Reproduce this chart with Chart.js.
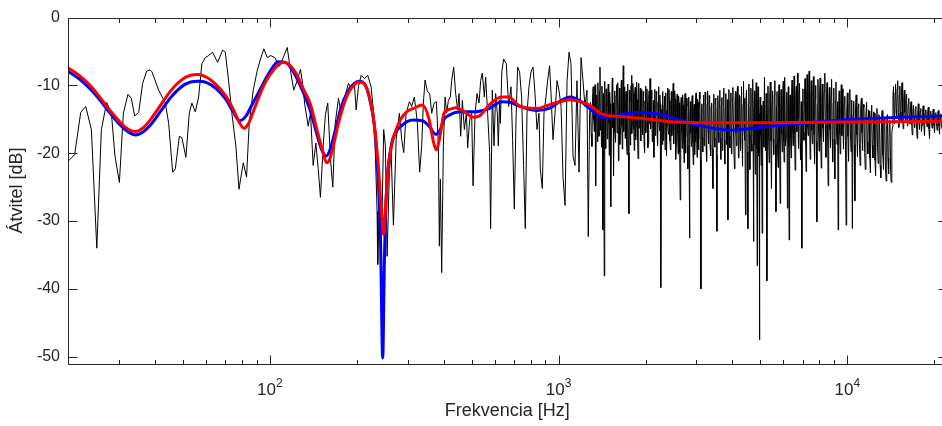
<!DOCTYPE html>
<html>
<head>
<meta charset="utf-8">
<script src="https://cdn.jsdelivr.net/npm/chart.js@4.4.1/dist/chart.umd.min.js"></script>
<style>
  html, body { margin: 0; padding: 0; overflow: hidden; background: #fff; }
</style>
</head>
<body>
<canvas id="chart" width="950" height="426"></canvas>
<script>
// measured response, [Hz, dB]
const measured = [
  [20.0,-21.2],[21.09,-20.2],[22.13,-14.0],[23.03,-13.1],[24.1,-16.5],[25.16,-34.0],[26.1,-16.5],[27.23,-12.5],[28.27,-14.1],[29.09,-20.4],
  [30.13,-24.3],[31.1,-14.1],[32.26,-11.3],[33.14,-11.9],[34.03,-14.5],[35.13,-14.0],[36.27,-9.7],[37.45,-7.9],[38.45,-7.7],[39.07,-8.0],
  [41.21,-10.7],[43.47,-12.6],[44.63,-15.6],[46.07,-22.8],[47.07,-22.3],[48.6,-17.5],[49.6,-17.7],[51.21,-20.6],[52.61,-14.1],[53.72,-12.6],
  [55.2,-13.9],[56.67,-11.7],[58.17,-6.8],[59.77,-5.9],[61.36,-5.6],[63.35,-5.1],[65.93,-6.6],[68.61,-4.8],[70.1,-5.1],[71.97,-9.3],
  [73.87,-14.1],[76.27,-18.9],[78.2,-25.3],[80.9,-21.4],[83.05,-23.5],[84.85,-15.6],[87.61,-10.7],[90.45,-7.8],[92.86,-6.1],[95.34,-4.6],
  [97.96,-5.9],[100.6,-5.6],[104.1,-5.9],[107.8,-7.2],[111.3,-5.9],[114.9,-4.4],[117.9,-7.8],[121.0,-10.7],[124.4,-9.3],[127.7,-7.6],
  [129.8,-9.7],[132.2,-12.9],[135.8,-16.0],[138.3,-14.1],[141.3,-21.8],[144.3,-18.5],[147.1,-22.3],[149.7,-26.5],[153.0,-18.9],[155.8,-14.3],
  [158.7,-12.6],[162.2,-20.9],[165.2,-25.0],[168.4,-15.6],[172.9,-11.9],[176.6,-14.1],[181.3,-11.9],[187.2,-9.7],[192.2,-10.5],[196.4,-10.0],
  [199.0,-13.6],[202.7,-10.2],[207.2,-8.5],[212.7,-9.0],[218.3,-8.5],[224.2,-10.2],[230.2,-15.1],[235.2,-28.6],[236.4,-36.4],[239.6,-26.2],
  [244.0,-32.0],[247.9,-16.5],[251.3,-18.9],[254.8,-35.2],[259.4,-22.8],[263.1,-19.9],[267.9,-30.6],[273.8,-18.0],[281.0,-14.1],[286.3,-18.0],
  [290.9,-19.9],[296.5,-14.1],[304.4,-12.4],[309.9,-13.1],[316.6,-11.7],[320.5,-13.6],[324.3,-15.6],[330.3,-22.8],[335.7,-18.9],[340.2,-12.6],
  [344.9,-9.2],[351.3,-10.9],[357.8,-11.2],[363.6,-14.1],[370.6,-12.6],[377.4,-12.4],[383.5,-18.9],[386.5,-33.7],[389.6,-23.8],[393.7,-37.6],
  [399.0,-18.9],[404.5,-11.7],[409.7,-14.1],[415.3,-12.2],[421.9,-11.7],[426.3,-9.3],[433.2,-7.3],[440.1,-11.2],[447.2,-13.6],[452.2,-11.2],
  [458.0,-17.5],[464.3,-12.2],[471.7,-16.5],[479.3,-14.1],[484.3,-19.2],[492.1,-15.1],[500.0,-14.1],[505.6,-24.8],[513.7,-14.1],[522.0,-11.2],
  [530.3,-12.6],[537.1,-9.3],[544.4,-8.2],[553.2,-11.7],[559.0,-8.8],[567.9,-14.1],[577.1,-19.9],[581.6,-31.1],[589.5,-10.7],[597.6,-18.9],
  [605.3,-11.2],[613.5,-14.1],[618.4,-18.9],[624.9,-12.2],[628.4,-15.6],[636.0,-8.0],[645.2,-6.1],[659.2,-6.8],[671.4,-13.1],[684.3,-10.2],
  [693.1,-18.0],[702.5,-28.2],[712.1,-15.1],[721.3,-7.3],[732.9,-8.0],[744.6,-11.7],[756.6,-21.8],[766.8,-31.1],[777.4,-14.1],[789.8,-10.2],
  [802.6,-8.0],[815.5,-7.3],[828.6,-11.2],[841.9,-16.5],[855.4,-14.1],[864.3,-22.3],[878.2,-25.2],[890.1,-14.1],[904.5,-11.7],[916.1,-9.3],
  [930.8,-7.1],[941.3,-11.2],[956.5,-18.0],[971.9,-14.1],[987.5,-9.3],[1003,-10.7],[1020,-13.1],[1036,-23.5],[1053,-27.7],[1070,-9.3],
  [1087,-5.1],[1104,-6.8],[1122,-20.4],[1140,-21.8],[1158,-9.3],[1177,-22.8],[1196,-5.9],[1215,-9.3],[1234,-13.1],[1254,-10.7],
  [1267,-32.3],[1281,-14.1],
  // 1.3k - 2.3k
  [1290,-12.5],[1297,-17.2],[1305,-19.0],[1311,-11.8],[1318,-10.2],[1324,-15.1],[1330,-16.8],[1337,-9.9],[1344,-24.8],[1350,-13.9],
  [1356,-11.4],[1362,-18.3],[1368,-9.6],[1374,-14.4],[1380,-17.5],[1386,-10.8],[1391,-7.3],[1397,-16.6],[1402,-13.8],[1408,-19.1],
  [1413,-10.1],[1418,-15.2],[1424,-31.3],[1428,-11.2],[1432,-12.0],[1436,-20.5],[1439,-38.1],[1445,-9.4],[1450,-14.6],[1456,-19.3],
  [1462,-10.5],[1468,-13.1],[1474,-17.9],[1480,-12.2],[1486,-9.8],[1492,-15.5],[1498,-20.3],[1503,-11.0],[1508,-12.7],[1513,-18.0],
  [1518,-27.9],[1524,-14.8],[1530,-11.3],[1535,-8.9],[1540,-16.2],[1545,-12.6],[1550,-23.3],[1556,-13.0],[1562,-10.8],[1568,-16.9],
  [1575,-18.4],[1581,-11.5],[1588,-9.9],[1594,-17.0],[1600,-14.7],[1606,-9.6],[1612,-21.1],[1618,-13.3],[1624,-10.4],[1630,-18.7],
  [1637,-16.3],[1643,-11.0],[1650,-9.2],[1656,-15.9],[1662,-19.4],[1668,-12.1],[1675,-7.1],[1681,-16.8],[1688,-13.6],[1694,-10.2],
  [1700,-17.8],[1706,-12.9],[1713,-10.9],[1719,-18.5],[1726,-20.2],[1732,-9.8],[1739,-11.8],[1745,-19.9],[1752,-28.9],[1758,-10.7],
  [1765,-12.4],[1771,-18.8],[1777,-16.9],[1783,-10.0],[1789,-8.5],[1795,-17.1],[1802,-15.3],[1808,-9.7],[1815,-11.2],[1821,-16.4],
  [1828,-19.6],[1835,-11.1],[1842,-10.3],[1849,-18.0],[1856,-16.0],[1863,-9.5],[1870,-12.1],[1877,-17.6],[1884,-20.8],[1891,-12.0],
  [1898,-9.7],[1905,-16.3],[1912,-14.5],[1919,-10.4],[1926,-18.2],[1933,-13.0],[1940,-10.6],[1947,-15.0],[1955,-17.3],[1962,-10.9],
  [1970,-11.5],[1977,-18.4],[1985,-19.9],[1992,-12.3],[2000,-10.1],[2007,-17.0],[2015,-15.8],[2022,-10.5],[2030,-12.4],[2037,-19.2],
  [2045,-18.6],[2052,-11.7],[2059,-10.8],[2066,-15.6],[2073,-9.0],[2080,-13.8],[2088,-16.4],[2095,-10.7],[2103,-11.9],[2110,-18.3],
  [2118,-17.7],[2128,-12.2],[2139,-20.6],[2146,-13.4],[2154,-10.6],[2162,-17.4],[2170,-15.1],[2178,-10.9],[2186,-11.3],[2194,-16.8],
  [2202,-18.9],[2210,-12.5],[2218,-10.2],[2226,-15.3],[2234,-16.7],[2242,-11.4],[2250,-12.8],[2256,-19.0],[2262,-39.8],[2270,-15.2],
  [2278,-13.5],
  // 2.3k - 3.1k
  [2286,-18.7],[2294,-10.9],[2302,-15.4],[2310,-18.1],[2319,-12.9],[2328,-11.6],[2337,-19.5],[2346,-16.4],[2355,-11.1],[2365,-20.4],
  [2374,-13.7],[2383,-10.4],[2392,-16.0],[2402,-17.2],[2411,-10.6],[2420,-12.3],[2430,-18.2],[2440,-19.5],[2449,-12.8],[2458,-10.9],
  [2467,-17.4],[2477,-16.1],[2486,-11.3],[2495,-9.7],[2504,-18.6],[2514,-15.7],[2524,-10.8],[2534,-12.0],[2544,-20.9],[2554,-18.8],
  [2564,-12.7],[2574,-11.3],[2584,-17.0],[2594,-20.1],[2604,-11.6],[2615,-12.6],[2626,-19.8],[2638,-26.9],[2648,-13.5],[2658,-11.8],
  [2668,-16.8],[2679,-19.3],[2689,-11.4],[2700,-12.9],[2710,-18.0],[2720,-21.4],[2730,-13.6],[2741,-11.2],[2751,-20.0],[2762,-17.6],
  [2772,-11.9],[2783,-13.1],[2793,-18.9],[2804,-22.3],[2814,-12.6],[2824,-11.7],[2832,-20.8],[2841,-32.5],[2850,-14.7],[2860,-12.4],
  [2871,-17.1],[2882,-19.0],[2893,-12.2],[2904,-11.5],[2915,-18.4],[2926,-21.7],[2937,-13.9],[2948,-12.8],[2959,-20.2],[2970,-18.3],
  [2981,-11.8],[2993,-11.1],[3004,-16.9],[3016,-20.6],[3028,-12.0],[3040,-12.5],[3051,-19.5],[3063,-17.9],[3075,-11.0],[3087,-11.9],
  [3099,-21.0],[3111,-40.0],[3122,-14.2],[3133,-12.7],
  // 3.1k - 4.2k
  [3145,-17.6],[3157,-19.8],[3169,-12.9],[3181,-11.4],[3193,-18.9],[3206,-17.5],[3218,-11.0],[3231,-12.2],[3243,-19.0],[3256,-21.2],
  [3269,-12.7],[3282,-10.8],[3295,-16.4],[3308,-18.6],[3321,-11.5],[3335,-11.9],[3348,-18.8],[3362,-20.4],[3375,-13.1],[3389,-12.6],
  [3406,-19.4],[3423,-25.2],[3435,-12.8],[3448,-11.3],[3462,-17.7],[3476,-19.1],[3490,-11.9],[3504,-12.1],[3519,-20.3],[3534,-31.5],
  [3547,-13.4],[3560,-11.5],[3574,-16.9],[3588,-18.4],[3602,-12.4],[3617,-10.7],[3631,-17.8],[3646,-20.9],[3660,-12.9],[3675,-11.8],
  [3689,-19.6],[3704,-17.3],[3719,-11.7],[3734,-10.4],[3749,-18.0],[3764,-21.6],[3779,-13.5],[3794,-11.2],[3809,-16.3],[3825,-18.7],
  [3841,-12.1],[3858,-29.8],[3873,-13.2],[3888,-10.6],[3904,-17.4],[3920,-19.2],[3935,-12.3],[3951,-11.1],[3967,-20.1],[3983,-17.6],
  [3999,-11.9],[4015,-10.3],[4040,-18.3],[4066,-22.3],[4082,-12.4],[4098,-10.9],[4114,-17.0],[4131,-18.9],[4147,-11.5],[4164,-10.1],
  [4181,-16.2],[4198,-20.7],[4215,-12.6],[4232,-11.4],
  // 4.2k - 5.9k
  [4249,-18.1],[4266,-19.6],[4283,-11.6],[4300,-10.2],[4318,-17.9],[4335,-21.9],[4352,-12.8],[4370,-9.4],[4387,-16.5],[4404,-18.1],
  [4421,-11.9],[4439,-29.1],[4457,-12.1],[4475,-10.7],[4500,-19.8],[4524,-31.1],[4542,-12.7],[4560,-9.8],[4578,-17.2],[4597,-22.4],
  [4615,-13.1],[4634,-10.4],[4652,-18.6],[4671,-19.7],[4686,-11.3],[4702,-9.1],[4717,-17.5],[4732,-33.0],[4748,-14.0],[4765,-10.8],
  [4782,-18.8],[4800,-23.1],[4818,-12.0],[4836,-9.6],[4855,-19.4],[4873,-36.6],[4889,-13.3],[4905,-10.2],[4920,-17.8],[4935,-20.4],
  [4949,-14.2],[4963,-47.5],[4976,-15.0],[4990,-11.7],[5010,-17.3],[5030,-21.8],[5050,-12.9],[5070,-31.8],[5092,-13.8],[5115,-12.3],
  [5140,-19.1],[5164,-8.8],[5187,-15.7],[5210,-19.6],[5237,-11.2],[5264,-38.8],[5287,-14.4],[5310,-10.1],[5335,-17.6],[5360,-21.4],
  [5385,-11.8],[5410,-9.5],[5436,-18.2],[5461,-25.2],[5485,-12.6],[5510,-10.8],[5535,-17.9],[5560,-20.2],[5585,-11.4],[5610,-9.3],
  [5635,-18.7],[5660,-28.6],[5683,-13.0],[5705,-10.9],[5730,-19.5],[5755,-22.1],[5778,-11.7],[5800,-9.9],[5826,-18.4],[5852,-27.4],
  // 5.9k - 9.5k
  [5876,-13.1],[5900,-10.6],[5925,-17.1],[5950,-19.8],[5975,-11.5],[6000,-9.4],[6020,-18.2],[6040,-21.3],[6058,-12.0],[6076,-8.8],
  [6108,-18.9],[6140,-17.6],[6171,-11.0],[6202,-28.1],[6224,-13.6],[6245,-10.2],[6266,-19.0],[6287,-32.8],[6311,-13.9],[6335,-11.4],
  [6360,-17.8],[6385,-20.7],[6410,-11.9],[6435,-9.2],[6460,-16.4],[6485,-18.9],[6512,-12.3],[6540,-8.6],[6567,-17.0],[6595,-22.5],
  [6625,-11.8],[6655,-10.1],[6686,-16.8],[6717,-8.2],[6746,-14.9],[6775,-19.3],[6802,-11.2],[6830,-9.7],[6860,-18.6],[6890,-21.0],
  [6923,-12.4],[6957,-34.0],[6986,-13.0],[7015,-10.5],[7045,-16.9],[7075,-18.1],[7105,-11.3],[7135,-9.0],[7165,-17.5],[7195,-22.7],
  [7225,-12.2],[7255,-8.4],[7285,-16.1],[7315,-17.4],[7344,-10.6],[7373,-7.9],[7404,-15.8],[7435,-20.9],[7467,-11.7],[7500,-9.3],
  [7532,-16.6],[7565,-18.6],[7597,-10.9],[7630,-8.7],[7665,-17.3],[7700,-21.6],[7735,-12.0],[7770,-10.0],[7805,-18.2],[7841,-30.1],
  [7875,-12.8],[7910,-9.1],[7945,-16.0],[7980,-19.7],[8015,-11.4],[8050,-8.9],[8085,-17.7],[8120,-22.2],[8155,-12.5],[8190,-9.8],
  [8230,-16.3],[8270,-18.3],[8312,-11.0],[8355,-8.2],[8392,-15.9],[8430,-20.6],[8467,-11.8],[8505,-9.6],[8542,-17.4],[8580,-24.8],
  [8620,-12.9],[8660,-10.3],[8700,-16.5],[8740,-19.2],[8780,-11.6],[8820,-9.1],[8860,-17.9],[8900,-21.3],[8937,-12.6],[8975,-10.4],
  [9012,-18.0],[9050,-23.8],[9090,-12.2],[9130,-9.5],[9170,-16.7],[9210,-18.7],[9250,-12.4],[9291,-31.3],[9330,-13.3],[9370,-10.8],
  [9410,-17.1],[9450,-20.1],[9490,-12.1],[9530,-9.9],
  // 9.5k - 14.4k
  [9573,-17.4],[9616,-10.5],[9658,-16.2],[9700,-19.4],[9750,-12.6],[9800,-11.6],[9850,-18.1],[9902,-30.6],[9950,-13.7],[10000,-11.1],
  [10050,-17.5],[10100,-21.2],[10150,-12.8],[10200,-10.6],[10250,-16.9],[10300,-19.8],[10355,-12.2],[10409,-31.1],[10465,-14.4],[10520,-12.3],
  [10570,-18.7],[10620,-27.0],[10675,-13.2],[10730,-11.4],[10785,-17.3],[10840,-20.5],[10895,-13.1],[10950,-12.7],[11010,-18.6],[11070,-21.8],
  [11125,-13.5],[11180,-11.9],[11240,-17.0],[11300,-19.6],[11360,-12.8],[11420,-13.2],[11480,-19.9],[11540,-22.4],[11600,-14.1],[11660,-12.5],
  [11720,-18.3],[11780,-20.1],[11840,-13.6],[11900,-13.8],[11960,-20.6],[12020,-22.9],[12080,-14.5],[12140,-12.9],[12205,-18.8],[12270,-20.7],
  [12335,-13.9],[12400,-14.1],[12465,-21.0],[12530,-23.3],[12595,-15.0],[12660,-13.4],[12725,-19.2],[12790,-21.5],[12855,-14.3],[12920,-14.6],
  [12990,-21.8],[13060,-23.6],[13130,-15.4],[13200,-13.7],[13270,-20.3],[13340,-22.4],[13410,-14.8],[13480,-15.0],[13550,-21.9],[13620,-24.1],
  [13690,-16.0],[13760,-14.3],[13830,-20.7],[13900,-23.0],[13975,-15.6],[14050,-15.2],[14120,-22.5],[14190,-24.3],[14260,-17.1],[14330,-16.1],
  // 14.4k - 16.5k
  [14390,-11.5],[14450,-10.2],[14510,-14.3],[14570,-15.6],[14630,-11.1],[14690,-9.8],[14750,-13.7],[14810,-14.9],[14875,-10.6],[14940,-9.3],
  [15005,-14.1],[15070,-16.2],[15135,-11.4],[15200,-10.1],[15265,-13.9],[15330,-15.3],[15400,-11.0],[15470,-9.6],[15540,-14.6],[15610,-16.4],
  [15680,-12.0],[15750,-10.7],[15820,-14.0],[15890,-15.1],[15960,-12.3],[16030,-11.3],[16100,-14.8],[16170,-16.0],[16245,-12.7],[16320,-11.9],
  [16395,-14.6],[16470,-15.7],
  // 16.5k - 21.5k
  [16545,-13.2],[16620,-12.4],[16700,-15.6],[16780,-17.3],[16860,-13.8],[16940,-12.9],[17020,-15.0],[17100,-16.2],[17185,-13.5],[17270,-13.1],
  [17355,-16.0],[17440,-17.8],[17525,-14.1],[17610,-12.7],[17695,-15.3],[17780,-16.5],[17870,-13.9],[17960,-13.4],[18050,-16.8],[18140,-15.9],
  [18230,-13.6],[18320,-13.0],[18410,-15.7],[18500,-17.4],[18595,-14.2],[18690,-13.6],[18785,-15.1],[18880,-16.1],[18975,-13.9],[19070,-13.2],
  [19165,-16.4],[19260,-17.9],[19355,-14.5],[19450,-13.8],[19550,-15.2],[19650,-16.3],[19750,-14.0],[19850,-13.5],[19950,-15.9],[20050,-17.0],
  [20150,-14.4],[20250,-14.0],[20350,-15.5],[20450,-16.6],[20550,-14.3],[20650,-13.7],[20755,-16.0],[20860,-17.2],[20965,-14.6],[21070,-14.2],
  [21175,-15.8],[21280,-16.4],[21390,-14.8],[21500,-14.5]
];

// smoothed fits, [Hz, dB]
const blueFit = [
  [20,-7.9],[22.13,-9.2],[23.97,-10.6],[25.96,-12.3],[28.11,-14.2],[30.44,-15.9],[32.45,-16.9],[34.3,-17.3],[36.27,-16.9],[38.66,-15.8],
  [41.87,-13.8],[45.34,-11.8],[49.09,-10.3],[53.17,-9.5],[56.67,-9.4],[60.39,-9.6],[64.88,-10.4],[70.26,-12.0],[74.87,-14.0],[78.54,-15.2],
  [82.38,-14.6],[87.12,-12.7],[92.86,-10.5],[98.98,-8.3],[107.0,-6.5],[113.3,-6.6],[120.8,-8.0],[130.5,-11.0],[138.3,-13.8],[145.1,-17.0],
  [150.9,-19.4],[156.7,-20.4],[162.2,-19.3],[168.8,-16.5],[176.6,-13.2],[185.7,-11.0],[194.8,-9.8],[204.3,-9.4],[214.4,-10.0],[223.0,-12.5],
  [230.2,-16.0],[235.8,-22.0],[241.5,-32.0],[246.0,-50.2],[249.3,-36.0],[253.3,-26.0],[263.1,-19.0],[272.2,-17.0],[284.9,-16.0],[299.6,-15.3],
  [314.1,-15.1],[337.6,-15.2],[356.1,-16.0],[375.3,-17.2],[389.6,-16.5],[401.3,-15.0],[421.9,-14.3],[439.0,-14.0],[464.3,-13.9],[509.6,-13.9],
  [574.3,-13.4],[634.9,-12.4],[680.5,-12.5],[736.9,-13.1],[841.9,-13.7],[936.1,-13.3],[1014,-12.3],[1098,-11.7],[1189,-12.3],[1281,-13.4],
  [1409,-14.7],[1510,-14.7],[1652,-14.3],[1888,-14.0],[2267,-14.3],[2576,-15.0],[3144,-16.0],[3960,-16.6],[5193,-16.1],[7373,-15.5],
  [10468,-15.0],[15220,-14.7],[22050,-14.5]
];

const redFit = [
  [20,-7.4],[22.13,-8.7],[23.97,-10.1],[25.96,-11.9],[28.11,-13.8],[30.44,-15.5],[32.45,-16.5],[34.3,-16.8],[36.27,-16.3],[38.66,-15.0],
  [41.87,-12.9],[45.34,-10.8],[49.09,-9.3],[53.17,-8.5],[56.67,-8.4],[60.39,-8.8],[64.88,-9.8],[70.26,-11.5],[74.87,-13.6],[78.54,-15.5],
  [81.28,-16.3],[84.39,-15.6],[89.22,-13.0],[94.36,-10.4],[100.6,-8.3],[111.3,-6.6],[117.9,-7.1],[123.7,-8.3],[130.5,-10.5],[138.3,-12.8],
  [145.1,-16.3],[150.9,-19.0],[157.9,-21.4],[164.8,-19.5],[170.1,-16.8],[176.6,-14.1],[185.7,-11.4],[194.8,-10.0],[204.3,-9.5],[214.4,-10.0],
  [223.0,-12.3],[230.2,-15.8],[237.7,-22.0],[243.4,-28.5],[247.9,-32.0],[252.3,-27.0],[257.4,-22.0],[263.1,-19.2],[272.2,-16.8],[284.9,-14.9],
  [299.6,-13.8],[314.1,-13.4],[337.6,-12.9],[356.1,-15.0],[368.5,-18.3],[377.4,-19.5],[386.5,-18.0],[401.3,-14.1],[421.9,-13.5],[440.1,-13.3],
  [467.9,-13.8],[509.6,-14.7],[535.8,-14.4],[574.3,-12.9],[634.9,-11.7],[669.7,-11.7],[736.9,-13.1],[841.9,-13.4],[936.1,-12.8],[1014,-12.4],
  [1098,-12.1],[1189,-12.4],[1281,-12.9],[1409,-14.2],[1652,-14.6],[1888,-14.8],[2267,-15.2],[2576,-15.4],[3144,-15.5],[5193,-15.5],
  [10468,-15.4],[22050,-15.3]
];

const yTicks = [-50, -40, -30, -20, -10, 0];
const xMajor = [100, 1000, 10000];
const xMinor = [20, 30, 40, 50, 60, 70, 80, 90, 200, 300, 400, 500, 600, 700, 800, 900,
  2000, 3000, 4000, 5000, 6000, 7000, 8000, 9000, 20000];

const FONT = 'Liberation Sans, Arial, Helvetica, sans-serif';
const AXIS = '#262626';

const toXY = (arr) => arr.map(([f, v]) => ({ x: f, y: v }));

// MATLAB-style box with inward ticks and 10^n labels
const matlabFrame = {
  id: 'matlabFrame',
  afterDatasetsDraw(chart) {
    const { ctx, chartArea: a, scales: { x, y } } = chart;
    const L = Math.round(a.left) + 0.5, R = Math.round(a.right) + 0.5;
    const T = Math.round(a.top) + 0.5, B = Math.round(a.bottom) + 0.5;
    ctx.save();
    ctx.strokeStyle = AXIS;
    ctx.lineWidth = 1;
    ctx.beginPath();
    ctx.rect(L, T, R - L, B - T);
    yTicks.forEach(v => {
      const p = Math.round(y.getPixelForValue(v)) + 0.5;
      ctx.moveTo(L, p); ctx.lineTo(L + 9, p);
      ctx.moveTo(R, p); ctx.lineTo(R - 9, p);
    });
    xMajor.forEach(v => {
      const p = Math.round(x.getPixelForValue(v)) + 0.5;
      ctx.moveTo(p, B); ctx.lineTo(p, B - 9);
      ctx.moveTo(p, T); ctx.lineTo(p, T + 9);
    });
    xMinor.forEach(v => {
      const p = Math.round(x.getPixelForValue(v)) + 0.5;
      ctx.moveTo(p, B); ctx.lineTo(p, B - 4.5);
      ctx.moveTo(p, T); ctx.lineTo(p, T + 4.5);
    });
    ctx.stroke();

    ctx.fillStyle = AXIS;
    ctx.textBaseline = 'alphabetic';
    ctx.textAlign = 'left';
    xMajor.forEach(v => {
      const exp = String(Math.round(Math.log10(v)));
      ctx.font = '17px ' + FONT;
      const w1 = ctx.measureText('10').width;
      ctx.font = '12px ' + FONT;
      const w2 = ctx.measureText(exp).width;
      const p = x.getPixelForValue(v);
      const start = p - (w1 + w2) / 2;
      ctx.font = '17px ' + FONT;
      ctx.fillText('10', start, 395);
      ctx.font = '12px ' + FONT;
      ctx.fillText(exp, start + w1, 387);
    });
    ctx.restore();
  }
};

new Chart(document.getElementById('chart'), {
  type: 'line',
  data: {
    datasets: [
      { label: 'fit 2', data: toXY(redFit), borderColor: '#ff0000', borderWidth: 3,
        pointRadius: 0, cubicInterpolationMode: 'monotone' },
      { label: 'fit 1', data: toXY(blueFit), borderColor: '#0000ff', borderWidth: 3,
        pointRadius: 0, cubicInterpolationMode: 'monotone' },
      { label: 'measured', data: toXY(measured), borderColor: '#000000', borderWidth: 1,
        pointRadius: 0, tension: 0 }
    ]
  },
  options: {
    responsive: false,
    animation: false,
    devicePixelRatio: 1,
    layout: { padding: { top: 13.5, right: 3.5, left: 0, bottom: 0 } },
    plugins: { legend: { display: false }, tooltip: { enabled: false } },
    scales: {
      x: {
        type: 'logarithmic',
        min: 20,
        max: 22050,
        grid: { display: false },
        border: { display: false },
        ticks: { display: false },
        title: { display: true, text: 'Frekvencia [Hz]', color: AXIS,
                 font: { family: FONT, size: 18 }, padding: { top: 0, bottom: 4 } },
        afterFit: (s) => { s.height = 62.5; }
      },
      y: {
        type: 'linear',
        min: -51,
        max: 0,
        grid: { display: false, drawTicks: false },
        border: { display: false },
        afterBuildTicks: (s) => { s.ticks = yTicks.map(v => ({ value: v })); },
        ticks: { color: AXIS, font: { family: FONT, size: 16 }, padding: 8 },
        title: { display: true, text: 'Átvitel [dB]', color: AXIS,
                 font: { family: FONT, size: 18 }, padding: { top: 6, bottom: 0 } },
        afterFit: (s) => { s.width = 68; }
      }
    }
  },
  plugins: [matlabFrame]
});
</script>
</body>
</html>
